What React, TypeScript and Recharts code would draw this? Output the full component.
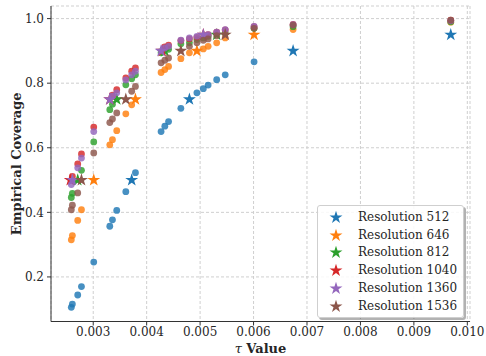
import { ScatterChart, Scatter, XAxis, YAxis, CartesianGrid, Legend } from "recharts";

// tau values shared by every resolution
const tauGrid = [
  0.00259, 0.00261, 0.00271, 0.00278, 0.00301, 0.00331, 0.00336, 0.00344, 0.00361, 0.00372,
  0.00379, 0.00427, 0.00434, 0.00441, 0.00464, 0.0048, 0.00494, 0.00506, 0.00515, 0.00531,
  0.00547, 0.00601, 0.00674, 0.00969,
];

// empirical coverage per tau (null where only the star shows)
const cov512 = [0.106, 0.116, 0.144, 0.17, 0.246, 0.357, 0.377, 0.406, 0.464, null, 0.523, 0.65, 0.667, 0.681, 0.722, null, 0.77, 0.783, 0.794, 0.811, 0.826, 0.866, null, null];
const cov646 = [0.315, 0.328, 0.375, 0.408, null, 0.609, 0.625, 0.653, 0.705, 0.733, null, 0.833, 0.842, 0.852, 0.876, 0.894, null, 0.906, 0.914, 0.925, 0.94, null, 0.966, 0.989];
const cov812 = [0.446, 0.459, null, 0.53, 0.618, 0.718, 0.735, null, 0.795, 0.814, 0.826, 0.894, null, 0.905, 0.922, 0.925, 0.935, 0.94, 0.945, null, 0.955, 0.97, 0.975, 0.99];
const cov1040 = [null, 0.511, 0.55, 0.581, 0.664, null, 0.763, 0.78, 0.816, 0.837, 0.847, null, 0.912, 0.918, 0.932, 0.937, 0.942, null, 0.95, 0.958, 0.965, 0.975, 0.982, 0.995];
const cov1360 = [0.486, null, 0.538, 0.568, 0.65, null, 0.76, 0.77, 0.81, 0.826, 0.837, null, 0.909, 0.914, 0.933, 0.94, 0.945, null, 0.95, 0.958, 0.966, 0.976, 0.981, 0.993];
const cov1536 = [0.408, 0.422, 0.46, null, 0.584, 0.678, 0.689, 0.708, null, 0.775, 0.79, 0.863, 0.871, 0.878, null, 0.914, 0.925, 0.933, 0.937, 0.947, null, 0.97, 0.98, 0.995];

// target coverage levels and the tau picked for each one (stars)
const targets = [0.5, 0.75, 0.9, 0.95];
const star512 = [0.00372, 0.0048, 0.00674, 0.00969];
const star646 = [0.00301, 0.00379, 0.00494, 0.00601];
const star812 = [0.00271, 0.00344, 0.00434, 0.00531];
const star1040 = [0.00257, 0.00331, 0.00429, 0.00506];
const star1360 = [0.00261, 0.00331, 0.00427, 0.00506];
const star1536 = [0.00278, 0.00361, 0.00464, 0.00547];

const xTicks = [0.003, 0.004, 0.005, 0.006, 0.007, 0.008, 0.009, 0.01];
const yTicks = [0.2, 0.4, 0.6, 0.8, 1.0];

const series = [
  { name: "Resolution 512", color: "#1f77b4", cov: cov512, stars: star512 },
  { name: "Resolution 646", color: "#ff7f0e", cov: cov646, stars: star646 },
  { name: "Resolution 812", color: "#2ca02c", cov: cov812, stars: star812 },
  { name: "Resolution 1040", color: "#d62728", cov: cov1040, stars: star1040 },
  { name: "Resolution 1360", color: "#9467bd", cov: cov1360, stars: star1360 },
  { name: "Resolution 1536", color: "#8c564b", cov: cov1536, stars: star1536 },
];

const FONT = "'DejaVu Serif', serif";
const INK = "#262626";

function starPath(cx: number, cy: number, r: number) {
  const inner = r * 0.382;
  let d = "";
  for (let k = 0; k < 10; k++) {
    const a = ((-90 + k * 36) * Math.PI) / 180;
    const rr = k % 2 === 0 ? r : inner;
    d += (k === 0 ? "M" : "L") + (cx + rr * Math.cos(a)).toFixed(2) + "," + (cy + rr * Math.sin(a)).toFixed(2);
  }
  return d + "Z";
}

const dotShape = (color: string) => (p: any) => (
  <circle cx={p.cx} cy={p.cy} r={3.4} fill={color} fillOpacity={0.82} />
);

const starShape = (color: string) => (p: any) => <path d={starPath(p.cx, p.cy, 6.8)} fill={color} />;

const XLabel = ({ viewBox }: any) => (
  <text
    x={viewBox.x + viewBox.width / 2}
    y={viewBox.y + 31}
    textAnchor="middle"
    fontFamily={FONT}
    fontSize={13}
    fontWeight="bold"
    fill={INK}
  >
    <tspan fontStyle="italic" fontWeight="normal">τ</tspan>
    <tspan> Value</tspan>
  </text>
);

const YLabel = ({ viewBox }: any) => {
  const cx = 16;
  const cy = viewBox.y + viewBox.height / 2;
  return (
    <text
      x={cx}
      y={cy}
      transform={`rotate(-90 ${cx} ${cy})`}
      textAnchor="middle"
      dominantBaseline="central"
      fontFamily={FONT}
      fontSize={13}
      fontWeight="bold"
      fill={INK}
    >
      Empirical Coverage
    </text>
  );
};

// only the star entries go in the legend, in plotting order
const LegendBox = () => (
  <div
    style={{
      width: 147,
      padding: "2px 0",
      background: "rgba(255,255,255,0.85)",
      border: "1px solid #cfcfcf",
      borderRadius: 3,
      boxShadow: "2px 2px 0 rgba(0,0,0,0.3)",
      fontFamily: FONT,
      fontSize: 12,
      color: INK,
      boxSizing: "border-box",
      whiteSpace: "nowrap",
    }}
  >
    {series.map((s) => (
      <div key={s.name} style={{ display: "flex", alignItems: "center", height: 17.8 }}>
        <svg width={36} height={16}>
          <path d={starPath(18, 8.5, 6.8)} fill={s.color} />
        </svg>
        <span style={{ marginLeft: 4 }}>{s.name}</span>
      </div>
    ))}
  </div>
);

export default function App() {
  return (
    <div style={{ position: "absolute", left: 0, top: 0, background: "#fff" }}>
      <ScatterChart width={486} height={356} margin={{ top: 6, right: 16, bottom: 0, left: 0 }}>
        <CartesianGrid stroke="#cfcfcf" strokeDasharray="3 2" />
        <XAxis
          type="number"
          dataKey="tau"
          domain={[0.00221, 0.01005]}
          ticks={xTicks}
          allowDataOverflow
          height={34.5}
          tickFormatter={(v: number) => v.toFixed(3)}
          tick={{ fill: INK, fontSize: 12, fontFamily: FONT }}
          tickSize={4}
          tickMargin={2}
          axisLine={{ stroke: "#333" }}
          tickLine={{ stroke: "#333" }}
          label={<XLabel />}
        />
        <YAxis
          type="number"
          dataKey="cov"
          domain={[0.062, 1.039]}
          ticks={yTicks}
          allowDataOverflow
          width={51}
          tickFormatter={(v: number) => v.toFixed(1)}
          tick={{ fill: INK, fontSize: 12, fontFamily: FONT }}
          tickSize={4}
          tickMargin={3}
          axisLine={{ stroke: "#333" }}
          tickLine={{ stroke: "#333" }}
          label={<YLabel />}
        />
        <Legend
          layout="vertical"
          align="center"
          verticalAlign="middle"
          content={<LegendBox />}
          wrapperStyle={{ left: 317, top: 205, width: 150 }}
        />
        {series.flatMap((s) => [
          <Scatter
            key={s.name + "-dots"}
            name={s.name + " dots"}
            data={tauGrid
              .map((tau, i) => ({ tau, cov: s.cov[i] }))
              .filter((d) => d.cov !== null)}
            shape={dotShape(s.color)}
            fill={s.color}
            legendType="none"
            isAnimationActive={false}
          />,
          <Scatter
            key={s.name + "-stars"}
            name={s.name}
            data={s.stars.map((tau, i) => ({ tau, cov: targets[i] }))}
            shape={starShape(s.color)}
            fill={s.color}
            legendType="star"
            isAnimationActive={false}
          />,
        ])}
      </ScatterChart>
    </div>
  );
}
